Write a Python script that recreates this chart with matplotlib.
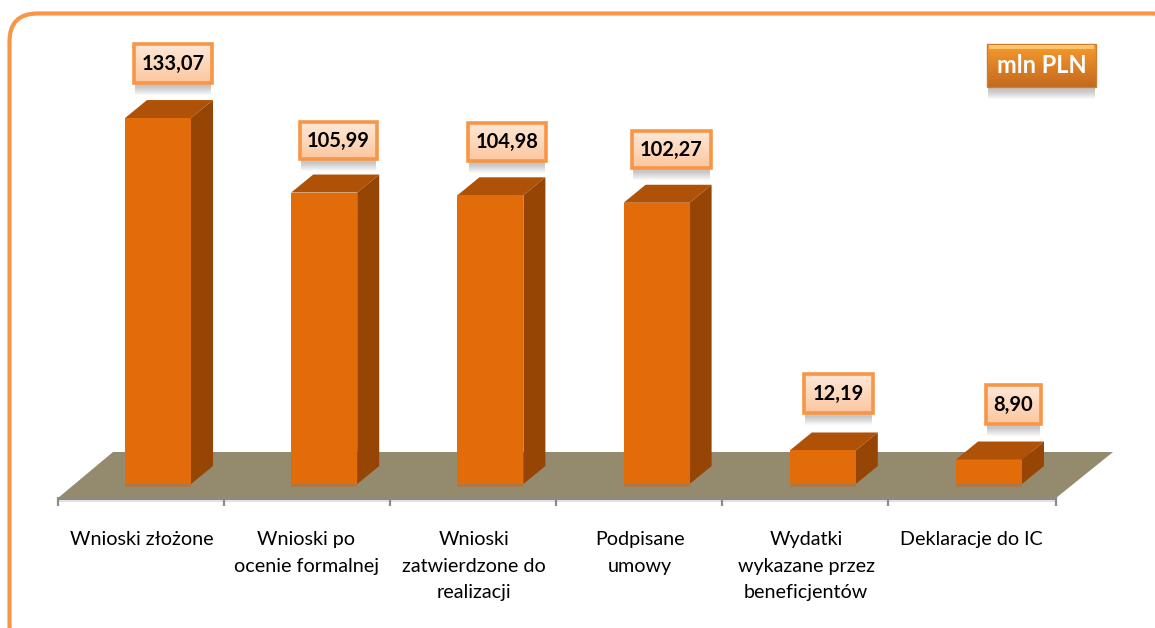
import numpy as np
import matplotlib
matplotlib.use("Agg")
import matplotlib.pyplot as plt
from matplotlib.patches import FancyBboxPatch, Polygon, Rectangle

W, H = 1155, 628

categories = ["Wnioski złożone", "Wnioski po\nocenie formalnej", "Wnioski\nzatwierdzone do\nrealizacji",
              "Podpisane\numowy", "Wydatki\nwykazane przez\nbeneficjentów", "Deklaracje do IC"]
values = [133.07, 105.99, 104.98, 102.27, 12.19, 8.90]
value_labels = ["133,07", "105,99", "104,98", "102,27", "12,19", "8,90"]
unit_label = "mln PLN"

# pixel layout of the picture
x0, x_step = 158.0, 166.2
base_y, y_scale = 484.0, 2.75
depth_x, depth_y = 22.0, 18.0
bar_w = 66.0
label_boxes = [(134, 44, 212, 83), (300, 122, 377, 159), (468, 123, 546, 161),
               (632, 131, 711, 168), (804, 374, 873, 413), (986, 385, 1041, 424)]
cat_x = [142, 306, 474, 640, 806, 971]
tick_x = [58, 224, 390, 556, 722, 888, 1056]

plt.rcParams['font.family'] = ['Lato', 'DejaVu Sans']

fig = plt.figure(figsize=(W / 100, H / 100), dpi=100)

# background layer in pixels
bg = fig.add_axes([0, 0, 1, 1], zorder=0)
bg.set_xlim(0, W)
bg.set_ylim(H, 0)
bg.axis("off")

bg.add_patch(FancyBboxPatch((9.5, 13.5), 1170, 640, boxstyle="round,pad=0,rounding_size=28",
                            fc="white", ec="#F79646", lw=3.0))

# floor
bg.add_patch(Polygon([(58, 498), (113, 452), (1113, 452), (1056, 498)], fc="#948A6E", ec="none"))
bg.add_patch(Rectangle((58, 497), 998, 2.5, fc="#8A8A8A", ec="none"))
bg.add_patch(Rectangle((58, 499.5), 998, 2.5, fc="#E2E2E2", ec="none"))
for tx in tick_x:
    bg.plot([tx, tx], [497, 506], color="#8A8A8A", lw=1.6, solid_capstyle="butt")

for cx, cat in zip(cat_x, categories):
    bg.text(cx, 531, cat, ha="center", va="top", fontsize=14.2, color="black", linespacing=1.68)


def draw_box(box, text, c_top, c_bottom, edge, tcolor, size, lw):
    x1, y1, x2, y2 = box
    # soft shadow below the box
    for k in range(1, 10):
        bg.add_patch(Rectangle((x1 + 1, y1 + 3), x2 - x1 - 2, y2 - y1 + k, fc="#505050", ec="none", alpha=0.04))
    top = np.array(matplotlib.colors.to_rgb(c_top))
    bot = np.array(matplotlib.colors.to_rgb(c_bottom))
    t = np.linspace(0, 1, 32)[:, None, None]
    bg.imshow(top + (bot - top) * t, extent=(x1, x2, y2, y1), aspect="auto", zorder=3)
    bg.add_patch(Rectangle((x1, y1), x2 - x1, y2 - y1, fc="none", ec=edge, lw=lw, zorder=4))
    bg.text((x1 + x2) / 2, (y1 + y2) / 2, text, ha="center", va="center", fontsize=size,
            fontweight="bold", color=tcolor, zorder=5)


for box, lab in zip(label_boxes, value_labels):
    draw_box(box, lab, "#FEE8D8", "#FBC79F", "#F79646", "black", 14.5, 2.6)

draw_box((987, 44, 1096, 87), unit_label, "#F79A2E", "#C46A1E", "#C98035", "white", 17, 1.0)
bg.add_patch(Rectangle((989, 45), 105, 4, fc="#FFD27A", ec="none", alpha=0.8, zorder=4))
bg.set_xlim(0, W)
bg.set_ylim(H, 0)

# bars on top, scale set so values land on the right pixels
ax = fig.add_axes([0, 0, 1, 1], zorder=1)
ax.patch.set_alpha(0)
ax.set_xlim(-x0 / x_step, (W - x0) / x_step)
ax.set_ylim((base_y - H) / y_scale, base_y / y_scale)
ax.axis("off")

pos = np.arange(len(values))
bw = bar_w / x_step
dx = depth_x / x_step
dy = depth_y / y_scale

for p, v in zip(pos, values):
    left, right = p - bw / 2, p + bw / 2
    ax.fill([left, left + dx, right + dx, right], [v, v + dy, v + dy, v], color="#AF5207", lw=0)
    ax.fill([right, right + dx, right + dx, right], [0, dy, v + dy, v], color="#964505", lw=0)
    ax.fill([left, right, right, left], [-1.2, -1.2, 0, 0], color="#A8794A", lw=0)
ax.bar(pos, values, width=bw, color="#E36C0A", edgecolor="none")

fig.savefig("out.png", dpi=100)
